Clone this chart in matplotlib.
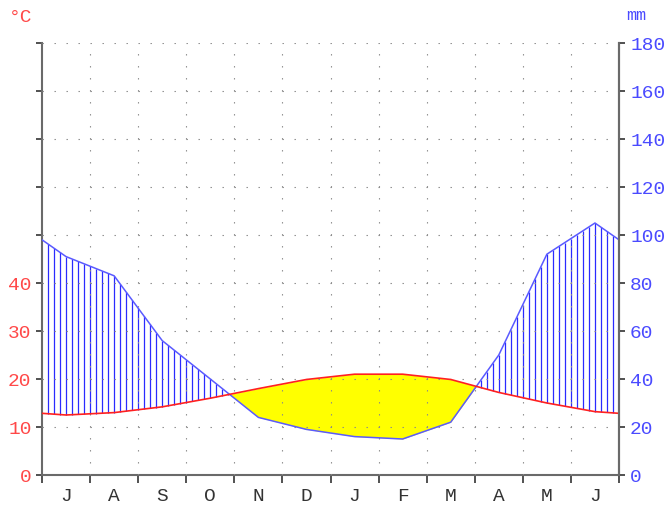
import numpy as np
import matplotlib.pyplot as plt

plt.rcParams['lines.scale_dashes'] = False

# climate data, July to June
months = ['J', 'A', 'S', 'O', 'N', 'D', 'J', 'F', 'M', 'A', 'M', 'J']
temp_c = [12.5, 13.0, 14.2, 16.0, 18.0, 19.9, 21.0, 21.0, 19.9, 17.2, 15.0, 13.2]
precip_mm = [91, 83, 56, 40, 24, 19, 16, 15, 22, 50, 92, 105]

temp = np.array(temp_c)
prec = np.array(precip_mm, dtype=float)

# points at month centres, closed at the edges with the Jun/Jul mean
x = np.concatenate([[0], np.arange(12) + 0.5, [12]])
t_edge = (temp[0] + temp[-1]) / 2
p_edge = (prec[0] + prec[-1]) / 2
t2 = np.concatenate([[t_edge], temp, [t_edge]]) * 2   # 1 degC = 2 mm
p = np.concatenate([[p_edge], prec, [p_edge]])

fig = plt.figure(figsize=(6.68, 5.10), dpi=100)
ax = fig.add_axes([42 / 668, 34 / 510, 577 / 668, 432 / 510])
ax.set_xlim(0, 12)
ax.set_ylim(0, 180)

grid_col = '#8a8a8a'
dots = (0, (1.0, 7.64))
for yy in range(20, 181, 20):
    ax.plot([0, 12], [yy, yy], color=grid_col, lw=0.8, ls=(8.64, (1.0, 7.64)), zorder=3)
for xx in range(1, 12):
    ax.plot([xx, xx], [0, 180], color=grid_col, lw=0.8, ls=dots, zorder=3)

# humid period hatching
xs = np.arange(1, 96) / 8
ts = np.interp(xs, x, t2)
ps = np.interp(xs, x, p)
wet = ps > ts
ax.vlines(xs[wet], ts[wet], ps[wet], color='#2a2aff', lw=0.9, zorder=2)

# dry period
ax.fill_between(x, p, t2, where=t2 > p, interpolate=True, color='#ffff00', lw=0, zorder=1)

ax.plot(x, p, color='#5a5aff', lw=1.1, zorder=4)
ax.plot(x, t2, color='#ff2020', lw=1.2, zorder=4)

ax.spines['top'].set_visible(False)
for side in ['left', 'right', 'bottom']:
    ax.spines[side].set_color('#6a6a6a')
    ax.spines[side].set_linewidth(1.5)

font = 'Liberation Mono'
ax.set_yticks(range(0, 181, 20))
ax.set_yticklabels([str(v // 2) if v <= 80 else '' for v in range(0, 181, 20)],
                   fontfamily=font, fontsize=14, color='#ff4848')
ax.tick_params(axis='y', length=4.5, width=1.2, color='#333333', pad=3)

ax.set_xticks(range(0, 13))
ax.set_xticklabels([])
ax.set_xticks(np.arange(12) + 0.5, minor=True)
ax.set_xticklabels(months, minor=True, fontfamily=font, fontsize=14, color='#333333')
ax.tick_params(axis='x', which='major', length=6, width=1.2, color='#333333')
ax.tick_params(axis='x', which='minor', length=0, pad=9)

ax2 = ax.twinx()
ax2.set_ylim(0, 180)
ax2.set_yticks(range(0, 181, 20))
ax2.set_yticklabels([str(v) for v in range(0, 181, 20)],
                    fontfamily=font, fontsize=14, color='#4a4aff')
ax2.tick_params(axis='y', length=4, width=1.2, color='#333333', pad=4)
for side in ['top', 'left', 'bottom']:
    ax2.spines[side].set_visible(False)
ax2.spines['right'].set_color('#6a6a6a')
ax2.spines['right'].set_linewidth(1.5)

fig.text(9 / 668, 1 - 17 / 510, '°C', fontfamily=font, fontsize=14, color='#ff4848',
         ha='left', va='center')
fig.text(626 / 668, 1 - 16 / 510, 'mm', fontfamily=font, fontsize=12, color='#4a4aff',
         ha='left', va='center')

fig.savefig('out.png', dpi=100, facecolor='white')
